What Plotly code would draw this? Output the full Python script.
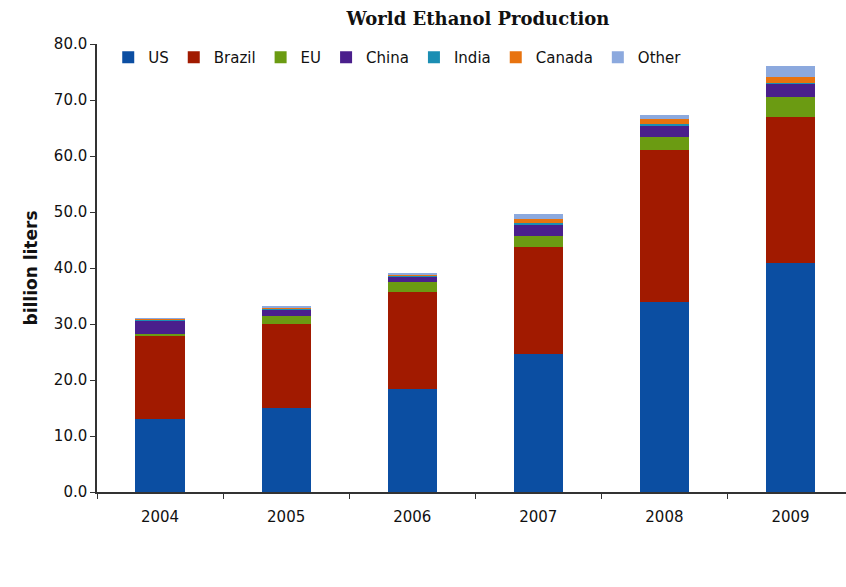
import plotly.graph_objects as go

years = ["2004", "2005", "2006", "2007", "2008", "2009"]
us = [13.0, 15.0, 18.4, 24.6, 33.9, 40.9]
brazil = [15.0, 15.0, 17.3, 19.1, 27.2, 26.1]
eu = [0.3, 1.4, 1.8, 2.1, 2.3, 3.6]
china = [2.4, 1.1, 0.9, 1.9, 2.1, 2.3]
india = [0.1, 0.3, 0.3, 0.3, 0.3, 0.2]
canada = [0.1, 0.1, 0.1, 0.8, 0.8, 1.0]
other = [0.1, 0.3, 0.3, 0.8, 0.7, 2.0]

series = [
    ("US", us, "#0B4EA2"),
    ("Brazil", brazil, "#A11A00"),
    ("EU", eu, "#6B9B12"),
    ("China", china, "#4A1F8C"),
    ("India", india, "#1B8EB3"),
    ("Canada", canada, "#E8730F"),
    ("Other", other, "#8CA9DE"),
]

fig = go.Figure()
for name, vals, col in series:
    fig.add_trace(go.Bar(x=years, y=vals, name=name, marker=dict(color=col, line=dict(width=0)),
                         width=0.39))

fig.update_layout(
    barmode="stack",
    width=846, height=587,
    margin=dict(l=97, r=0, t=44, b=95),
    paper_bgcolor="white", plot_bgcolor="white",
    title=dict(text="<b>World Ethanol Production</b>", x=0.565, xanchor="center", y=0.968, yanchor="middle",
               font=dict(family="DejaVu Serif", size=18, color="#111")),
    legend=dict(orientation="h", x=0.015, y=0.97, xanchor="left", yanchor="middle",
                font=dict(family="DejaVu Sans", size=15, color="#111"),
                itemwidth=30, traceorder="normal", bgcolor="rgba(0,0,0,0)", tracegroupgap=0),
    font=dict(family="DejaVu Sans", color="#111"),
)
fig.update_xaxes(range=[-0.5, 5.44], showline=True, linecolor="#333", linewidth=1.5,
                 ticks="outside", tickson="boundaries", ticklen=5, tickcolor="#333",
                 ticklabelstandoff=10,
                 tickfont=dict(size=15, family="DejaVu Sans", color="#111"), showgrid=False)
fig.update_yaxes(range=[0, 80], dtick=10, tickformat=".1f", showline=True, linecolor="#333", linewidth=1.5,
                 ticks="outside", ticklen=5, tickcolor="#333", showgrid=False, zeroline=False,
                 tickfont=dict(size=15, family="DejaVu Sans", color="#111"),
                 title=dict(text="<b>billion liters</b>", font=dict(size=17, family="DejaVu Sans"), standoff=12))
fig.write_html("out.html")
